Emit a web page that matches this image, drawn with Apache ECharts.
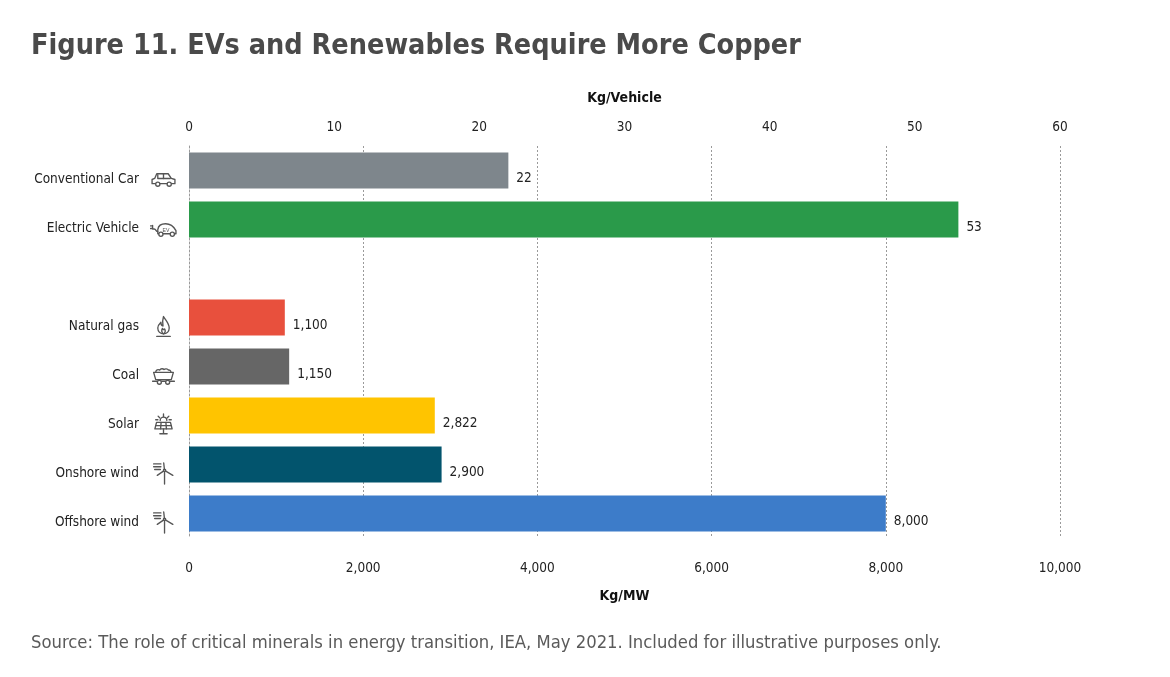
<!DOCTYPE html>
<html>
<head>
<meta charset="utf-8">
<script src="https://cdn.jsdelivr.net/npm/echarts@6/dist/echarts.min.js"></script>
<style>
  html, body { margin: 0; padding: 0; background: #fff; }
  #main { width: 1170px; height: 677px; }
</style>
</head>
<body>
<div id="main"></div>
<script>
// data
var categories = ['Conventional Car', 'Electric Vehicle', '', 'Natural gas', 'Coal', 'Solar', 'Onshore wind', 'Offshore wind'];
var iconKeys = ['car', 'ev', '', 'gas', 'coal', 'solar', 'wind', 'wind'];
var kgPerVehicle = [22, 53, '-', '-', '-', '-', '-', '-'];
var kgPerMW = ['-', '-', '-', 1100, 1150, 2822, 2900, 8000];
var barColors = ['#7e868c', '#2a9a4a', '#ffffff', '#e8503d', '#666666', '#ffc400', '#02546d', '#3d7cc9'];
var vehicleTicks = { min: 0, max: 60, interval: 10 };
var mwTicks = { min: 0, max: 10000, interval: 2000 };

var FONT = '"DejaVu Sans Condensed", "Liberation Sans Narrow", "Open Sans", sans-serif';

// little line icons next to the category names
function svgIcon(body) {
	var svg = '<svg xmlns="http://www.w3.org/2000/svg" width="52" height="44" viewBox="0 0 26 22">' +
		'<g fill="none" stroke="#555" stroke-width="1.3" stroke-linejoin="round" stroke-linecap="round">' + body + '</g></svg>';
	return 'data:image/svg+xml;charset=utf-8,' + encodeURIComponent(svg);
}
var icons = {
	car: svgIcon('<path d="M2 15 V11 L4.5 10 L6.5 5.5 H17.5 L20.5 10 L24 11 V15 Z"/><path d="M7.5 6.5 V10 H19.5"/><path d="M13 6 V10"/><circle cx="7.5" cy="15.5" r="2" fill="#fff"/><circle cx="18.5" cy="15.5" r="2" fill="#fff"/>'),
	ev: svgIcon('<path d="M0.5 8.5 H2.5 M0.5 11 H2.5 M2.5 8 V11.5 H4 C6 11.5 5.5 14 7.5 14"/><path d="M7.5 16 V12 C8 8.5 10.5 6.5 15 6.5 C19 6.5 23 9.5 25 13 V16 Z"/><text x="12" y="14.5" font-size="5" font-family="sans-serif" fill="#555" stroke="none">EV</text><circle cx="10.5" cy="16.5" r="2" fill="#fff"/><circle cx="21.5" cy="16.5" r="2" fill="#fff"/>'),
	gas: svgIcon('<path d="M13 1.5 C15 5 18.5 8 18.5 12.5 C18.5 15.8 16 18 13 18 C10 18 7.5 15.8 7.5 12.5 C7.5 10 9 8.5 10.5 7 C10.5 9.5 11.5 10.5 12.5 10.5 C12 7.5 12 4.5 13 1.5 Z"/><path d="M13 18 C11.3 16.8 10.8 15 12 12.8 C12.5 14 13.5 14.5 14 13.3 C15.2 15 14.8 16.8 13 18"/><path d="M6.5 20.5 H19.5"/>'),
	coal: svgIcon('<path d="M3.5 8 H22.5 L20.5 15 H5.5 Z"/><path d="M5.5 8 C5.5 5.8 7.8 4.8 9.3 5.8 C10.3 4.2 12.6 4.2 13.5 5.3 C14.5 4.2 17 4.5 17.6 5.8 C18.8 5.5 20.5 6.6 20 8"/><path d="M2.5 16.5 H23.5"/><circle cx="9" cy="17.5" r="1.9" fill="#fff"/><circle cx="17" cy="17.5" r="1.9" fill="#fff"/>'),
	solar: svgIcon('<path d="M13 1 V3.3 M7.8 3 L9.3 4.6 M18.2 3 L16.7 4.6 M5.5 6.5 H7.6 M20.5 6.5 H18.4"/><path d="M9.8 7.2 A3.2 3.2 0 0 1 16.2 7.2"/><path d="M6.3 9 H19.7 L21.3 15.2 H4.7 Z"/><path d="M5.5 12.1 H20.5 M10.7 9 L10.2 15.2 M15.3 9 L15.8 15.2"/><path d="M13 15.2 V19.3 M9.5 19.8 H16.5"/>'),
	wind: svgIcon('<path d="M14 8 V21"/><path d="M14 8 L13.2 1 M14 8 L22 12.8 M14 8 L7 12.8"/><circle cx="14" cy="8" r="1.1" fill="#fff"/><path d="M3.5 1.8 H10.5 M3.5 4.5 H10.5 M4.5 7.2 H10"/>')
};

var richStyles = {
	name: { fontFamily: FONT, fontSize: 13.5, color: '#222', padding: [0, 11, 0, 0] }
};
Object.keys(icons).forEach(function (k) {
	richStyles[k] = { width: 27, height: 23, backgroundColor: { image: icons[k] } };
});

function fmt(v) {
	return Number(v).toLocaleString('en-US');
}

var dom = document.getElementById('main');
var myChart = echarts.init(dom, null, { renderer: 'canvas' });

var valueLabel = {
	show: true,
	position: 'right',
	distance: 8,
	offset: [0, 8],
	fontFamily: FONT,
	fontSize: 13.5,
	color: '#222',
	formatter: function (p) { return fmt(p.value); }
};

var option = {
	backgroundColor: '#fff',
	animation: false,
	title: [
		{
			text: 'Figure 11. EVs and Renewables Require More Copper',
			left: 26,
			top: 27,
			textStyle: { fontFamily: FONT, fontSize: 28.5, fontWeight: 'bold', color: '#4a4a4a' }
		},
		{
			text: 'Source: The role of critical minerals in energy transition, IEA, May 2021. Included for illustrative purposes only.',
			left: 26,
			top: 629,
			textStyle: { fontFamily: FONT, fontSize: 18.3, fontWeight: 'normal', color: '#5a5a5a' }
		}
	],
	grid: {
		left: 189,
		right: 110,
		top: 146,
		bottom: 139,
		containLabel: false
	},
	xAxis: [
		{
			type: 'value',
			position: 'bottom',
			min: mwTicks.min,
			max: mwTicks.max,
			interval: mwTicks.interval,
			name: 'Kg/MW',
			nameLocation: 'middle',
			nameGap: 51,
			nameTextStyle: { fontFamily: FONT, fontSize: 14, fontWeight: 'bold', color: '#111', verticalAlign: 'top' },
			axisLine: { show: false },
			axisTick: { show: false },
			axisLabel: {
				margin: 23,
				fontFamily: FONT,
				fontSize: 13.5,
				color: '#222',
				formatter: fmt
			},
			splitLine: { show: true, lineStyle: { color: '#9a9a9a', type: [2, 2], width: 1 } }
		},
		{
			type: 'value',
			position: 'top',
			min: vehicleTicks.min,
			max: vehicleTicks.max,
			interval: vehicleTicks.interval,
			name: 'Kg/Vehicle',
			nameLocation: 'middle',
			nameGap: 41,
			nameTextStyle: { fontFamily: FONT, fontSize: 14, fontWeight: 'bold', color: '#111', verticalAlign: 'bottom' },
			axisLine: { show: false },
			axisTick: { show: false },
			axisLabel: { margin: 12, fontFamily: FONT, fontSize: 13.5, color: '#222' },
			splitLine: { show: false }
		}
	],
	yAxis: {
		type: 'category',
		inverse: true,
		data: categories,
		axisLine: { show: true, lineStyle: { color: '#9a9a9a', type: [2, 2], width: 1 } },
		axisTick: { show: false },
		axisLabel: {
			margin: 12,
			padding: [18, 0, 0, 0],
			formatter: function (value, idx) {
				if (!value) return '';
				return '{name|' + value + '}{' + iconKeys[idx] + '|}';
			},
			rich: richStyles
		}
	},
	series: [
		{
			name: 'Kg/Vehicle',
			type: 'bar',
			xAxisIndex: 1,
			barWidth: 36,
			barGap: '-100%',
			data: kgPerVehicle.map(function (v, i) {
				return { value: v, itemStyle: { color: barColors[i] } };
			}),
			label: valueLabel
		},
		{
			name: 'Kg/MW',
			type: 'bar',
			xAxisIndex: 0,
			barWidth: 36,
			barGap: '-100%',
			data: kgPerMW.map(function (v, i) {
				return { value: v, itemStyle: { color: barColors[i] } };
			}),
			label: valueLabel
		}
	]
};

myChart.setOption(option);
</script>
</body>
</html>
